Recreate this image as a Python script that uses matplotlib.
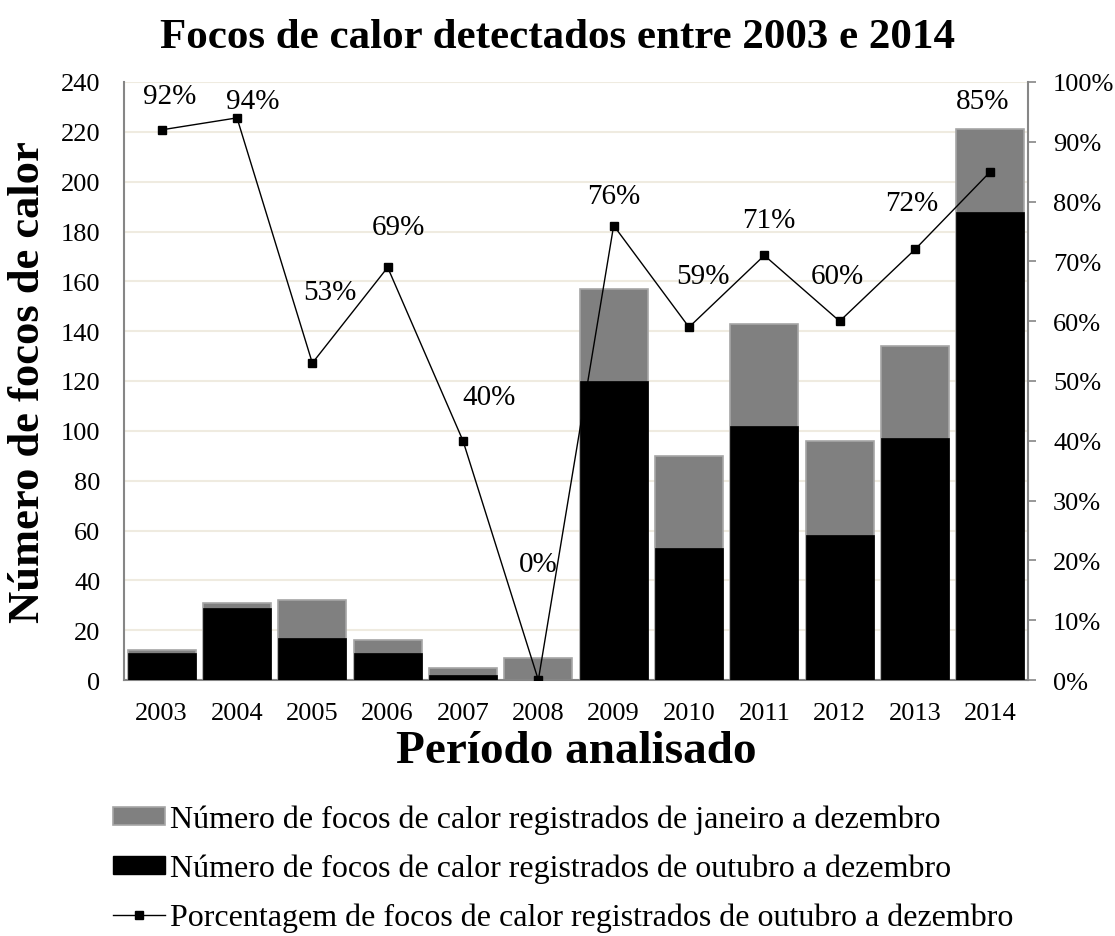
import matplotlib
matplotlib.use("Agg")
import matplotlib.pyplot as plt
from matplotlib.patches import Patch
from matplotlib.lines import Line2D
from matplotlib.ticker import FuncFormatter, MultipleLocator

plt.rcParams['font.family'] = ['Liberation Serif', 'DejaVu Serif']

years = ['2003', '2004', '2005', '2006', '2007', '2008', '2009', '2010', '2011', '2012', '2013', '2014']
total_jan_dez = [12, 31, 32, 16, 5, 9, 157, 90, 143, 96, 134, 221]
out_dez = [11, 29, 17, 11, 2, 0, 120, 53, 102, 58, 97, 188]
pct = [92, 94, 53, 69, 40, 0, 76, 59, 71, 60, 72, 85]

# label offsets (pixels) for percentage annotations
label_dx = [8, 16, 18, 11, 26, 0, 0, 14, 4, -2, -3, -8]
label_dy = [34, 17, 71, 40, 44, 116, 30, 51, 35, 45, 46, 71]

W, H = 1115, 937
fig = plt.figure(figsize=(W / 100, H / 100), dpi=100)
ax = fig.add_axes([124 / W, 1 - 681 / H, (1028 - 124) / W, (681 - 83) / H])

x = list(range(len(years)))
ax.bar(x, total_jan_dez, width=0.9, color='#808080', edgecolor='#A6A6A6', linewidth=1.2, zorder=2)
ax.bar(x, out_dez, width=0.9, color='#000000', edgecolor='#000000', linewidth=0.5, zorder=3)

ax.set_xlim(-0.5, len(years) - 0.5)
ax.set_ylim(0, 240)
ax.yaxis.set_major_locator(MultipleLocator(20))
ax.grid(axis='y', color='#EFEBE0', linewidth=1.5, zorder=0)
ax.set_axisbelow(True)
ax.set_xticks(x)
ax.set_xticklabels(years)
ax.tick_params(axis='x', length=0, labelsize=19, pad=16)
ax.tick_params(axis='y', length=0, labelsize=19, pad=17)
for s in ['top', 'right']:
    ax.spines[s].set_visible(False)
for s in ['left', 'bottom']:
    ax.spines[s].set_color('#868686')
    ax.spines[s].set_linewidth(1.5)

ax2 = ax.twinx()
ax2.set_ylim(0, 100)
ax2.yaxis.set_major_locator(MultipleLocator(10))
ax2.yaxis.set_major_formatter(FuncFormatter(lambda v, p: f"{int(round(v))}%"))
ax2.plot(x, pct, color='black', linewidth=1, marker='s', markersize=6, zorder=5)
ax2.tick_params(axis='y', direction='out', length=6, width=1.2, color='#868686', labelsize=19, pad=12)
for s in ['top', 'left', 'bottom']:
    ax2.spines[s].set_visible(False)
ax2.spines['right'].set_color('#868686')
ax2.spines['right'].set_linewidth(1.5)

for i, v in enumerate(pct):
    ax2.annotate(f"{v}%", (x[i], v), xytext=(label_dx[i] * 0.72, label_dy[i] * 0.72),
                 textcoords='offset points', ha='center', va='center', fontsize=21)

fig.text(557 / W, 1 - 38 / H, 'Focos de calor detectados entre 2003 e 2014',
         ha='center', va='center', fontsize=31, fontweight='bold')
fig.text((124 + 1028) / 2 / W, 1 - 752 / H, 'Período analisado',
         ha='center', va='center', fontsize=34, fontweight='bold')
fig.text(28 / W, 1 - 382 / H, 'Número de focos de calor', rotation=90,
         ha='center', va='center', fontsize=32, fontweight='bold')

handles = [Patch(facecolor='#808080', edgecolor='#A6A6A6', linewidth=1.2),
           Patch(facecolor='#000000', edgecolor='#000000'),
           Line2D([0], [0], color='black', linewidth=1, marker='s', markersize=6)]
labels = ['Número de focos de calor registrados de janeiro a dezembro',
          'Número de focos de calor registrados de outubro a dezembro',
          'Porcentagem de focos de calor registrados de outubro a dezembro']
fig.legend(handles, labels, loc='upper left', bbox_to_anchor=(113 / W, 1 - 806 / H),
           frameon=False, fontsize=23, handlelength=1.64, handletextpad=0.16,
           labelspacing=0.6, handleheight=0.5, borderaxespad=0, borderpad=0)

fig.savefig('out.png', dpi=100)
